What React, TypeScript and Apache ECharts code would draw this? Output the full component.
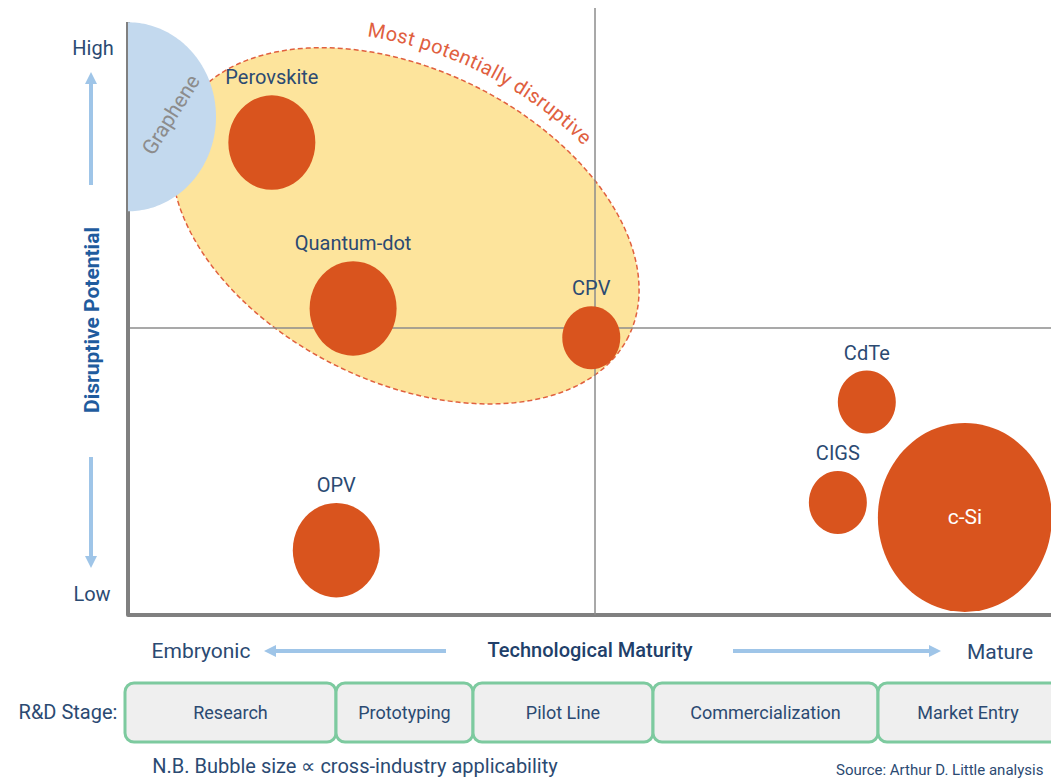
import React, { useEffect, useRef } from "react";
import * as echarts from "echarts";

// ---- Data ----
const technologies = ["Perovskite", "Quantum-dot", "CPV", "CdTe", "CIGS", "c-Si", "OPV"];
const maturity = [15.4, 24.1, 49.6, 79.1, 76.0, 89.6, 22.3];
const potential = [82.3, 53.4, 48.3, 37.1, 19.6, 17.0, 11.3];
const applicability = [1.5, 1.5, 1, 1, 1, 3, 1.5];

const grapheneName = "Graphene";
const grapheneMaturity = 0;
const graphenePotential = 86.8;
const grapheneApplicability = 3;

const stages = ["Research", "Prototyping", "Pilot Line", "Commercialization", "Market Entry"];
const zoneCenter = [29.7, 67.8];
const zoneLabel = "Most potentially disruptive";
const midMaturity = 50;
const midPotential = 50;
const axisTopPotential = 103.3;
const maturityMax = 98.82;
const potentialMax = 105.75;

// ---- Layout / style ----
const W = 1051;
const H = 778;
const BUBBLE_W = 58;
const BUBBLE_H = 63;
const ZONE_RX = 249;
const ZONE_RY = 156;
const ZONE_ANGLE = 26.3; // degrees, clockwise on screen
const STAGE_EDGES = [125, 336, 473, 653, 878, 1064];
const TEXT = "#2b4a72";
const ARROW = "#9fc5e8";
const FONT = "Roboto, 'Liberation Sans', sans-serif";

function arrow(x1: number, y1: number, x2: number, y2: number) {
  const ang = Math.atan2(y2 - y1, x2 - x1);
  const hl = 12;
  const hw = 6;
  const bx = x2 - hl * Math.cos(ang);
  const by = y2 - hl * Math.sin(ang);
  const nx = -Math.sin(ang);
  const ny = Math.cos(ang);
  return [
    { type: "line", shape: { x1, y1, x2: bx, y2: by }, style: { stroke: ARROW, lineWidth: 4 }, silent: true },
    {
      type: "polygon",
      shape: { points: [[x2, y2], [bx + nx * hw, by + ny * hw], [bx - nx * hw, by - ny * hw]] },
      style: { fill: ARROW },
      silent: true,
    },
  ];
}

function txt(text: string, x: number, y: number, size: number, color: string, extra: any = {}) {
  return {
    type: "text",
    x,
    y,
    silent: true,
    rotation: extra.rotation || 0,
    style: {
      text,
      fill: color,
      font: `${extra.weight || "normal"} ${size}px ${FONT}`,
      align: extra.align || "center",
      verticalAlign: "middle",
    },
  };
}

export default function App() {
  const ref = useRef<HTMLDivElement>(null);
  useEffect(() => {
    if (!ref.current) return;
    const chart = echarts.init(ref.current, null, { renderer: "svg" });

    const canvas = document.createElement("canvas");
    const ctx = canvas.getContext("2d") as CanvasRenderingContext2D;
    const zoneFontSize = 20;
    ctx.font = `${zoneFontSize}px Roboto`;

    const zoneItem = (params: any, api: any) => {
      const c = api.coord([api.value(0), api.value(1)]);
      const th = (ZONE_ANGLE * Math.PI) / 180;
      const ct = Math.cos(th);
      const st = Math.sin(th);
      const toScreen = (u: number, v: number) => [c[0] + u * ct - v * st, c[1] + u * st + v * ct];
      const pts: number[][] = [];
      for (let i = 0; i < 240; i++) {
        const t = (i / 240) * Math.PI * 2;
        pts.push(toScreen(ZONE_RX * Math.cos(t), ZONE_RY * Math.sin(t)));
      }
      const children: any[] = [
        {
          type: "polygon",
          shape: { points: pts },
          style: { fill: "#fde49c", stroke: "#e0603f", lineWidth: 1.5, lineDash: [5, 3] },
        },
      ];
      // curved label along the top of the ellipse
      const A = ZONE_RX + 22;
      const B = ZONE_RY + 22;
      const N = 3000;
      const ts: number[] = [];
      const ss: number[] = [];
      let acc = 0;
      let prev = [A * Math.cos(-Math.PI), B * Math.sin(-Math.PI)];
      for (let i = 0; i <= N; i++) {
        const t = -Math.PI + (i / N) * Math.PI;
        const p = [A * Math.cos(t), B * Math.sin(t)];
        acc += Math.hypot(p[0] - prev[0], p[1] - prev[1]);
        prev = p;
        ts.push(t);
        ss.push(acc);
      }
      const sMid = ss[N / 2];
      const spacing = 0.6;
      const widths = zoneLabel.split("").map((ch) => ctx.measureText(ch).width + spacing);
      const total = widths.reduce((a, b) => a + b, 0);
      let s = sMid - total / 2 + 3;
      const tAt = (sv: number) => {
        let lo = 0;
        let hi = N;
        while (hi - lo > 1) {
          const m = (lo + hi) >> 1;
          if (ss[m] < sv) lo = m;
          else hi = m;
        }
        return ts[hi];
      };
      zoneLabel.split("").forEach((ch, i) => {
        const sc = s + widths[i] / 2;
        s += widths[i];
        const t = tAt(sc);
        const u = A * Math.cos(t);
        const v = B * Math.sin(t);
        const p = toScreen(u, v);
        const du = -A * Math.sin(t);
        const dv = B * Math.cos(t);
        const dx = du * ct - dv * st;
        const dy = du * st + dv * ct;
        const phi = Math.atan2(dy, dx);
        if (ch === " ") return;
        children.push({
          type: "text",
          x: p[0],
          y: p[1],
          rotation: -phi,
          style: {
            text: ch,
            fill: "#e0603f",
            font: `${zoneFontSize}px ${FONT}`,
            align: "center",
            verticalAlign: "middle",
          },
        });
      });
      return { type: "group", children };
    };

    const grapheneItem = (params: any, api: any) => {
      const c = api.coord([api.value(0), api.value(1)]);
      const rx = (BUBBLE_W * api.value(2)) / 2 + 1;
      const ry = (BUBBLE_H * api.value(2)) / 2;
      const pts: number[][] = [];
      for (let i = 0; i <= 120; i++) {
        const t = -Math.PI / 2 + (i / 120) * Math.PI;
        pts.push([c[0] + rx * Math.cos(t), c[1] + ry * Math.sin(t)]);
      }
      return {
        type: "group",
        children: [
          { type: "polygon", shape: { points: pts }, style: { fill: "#c3d9ee" } },
          {
            type: "text",
            x: c[0] + 43,
            y: c[1] - 2,
            rotation: (58 * Math.PI) / 180,
            style: {
              text: grapheneName,
              fill: "#8c8c8c",
              font: `21px ${FONT}`,
              align: "center",
              verticalAlign: "middle",
            },
          },
        ],
      };
    };

    const graphics: any[] = [];
    graphics.push(txt("High", 93, 48, 20, TEXT));
    graphics.push(txt("Low", 92, 594, 20, TEXT));
    graphics.push(...arrow(91, 185, 91, 72));
    graphics.push(...arrow(91, 457, 91, 568));
    graphics.push(txt("Disruptive Potential", 92, 320, 21, "#1f5c9e", { rotation: Math.PI / 2, weight: "bold" }));
    graphics.push(txt("Embryonic", 201, 651, 21, TEXT));
    graphics.push(txt("Mature", 1000, 652, 21, TEXT));
    graphics.push(txt("Technological Maturity", 590, 650, 20, "#213f6a", { weight: 500 }));
    graphics.push(...arrow(446, 651, 264, 651));
    graphics.push(...arrow(733, 651, 941, 651));
    graphics.push(txt("R&D Stage:", 68, 712, 20, TEXT));
    stages.forEach((name, i) => {
      const x0 = STAGE_EDGES[i];
      const x1 = STAGE_EDGES[i + 1];
      graphics.push({
        type: "rect",
        shape: { x: x0, y: 683, width: x1 - x0, height: 59, r: 9 },
        style: { fill: "#efefef", stroke: "#7dca9f", lineWidth: 3 },
        silent: true,
      });
      graphics.push(txt(name, (x0 + Math.min(x1, 1058)) / 2, 712, 18, TEXT));
    });
    graphics.push(txt("N.B. Bubble size \u221D cross-industry applicability", 355, 766, 20, TEXT));
    graphics.push(txt("Source: Arthur D. Little analysis", 836, 770, 15, TEXT, { align: "left" }));

    const option: any = {
      animation: false,
      backgroundColor: "#ffffff",
      grid: { left: 128, right: 0, top: 8, bottom: H - 615, containLabel: false },
      xAxis: {
        type: "value",
        min: 0,
        max: maturityMax,
        axisLine: { show: true, onZero: false, lineStyle: { color: "#808080", width: 4 } },
        axisTick: { show: false },
        axisLabel: { show: false },
        splitLine: { show: false },
      },
      yAxis: {
        type: "value",
        min: 0,
        max: potentialMax,
        axisLine: { show: false },
        axisTick: { show: false },
        axisLabel: { show: false },
        splitLine: { show: false },
      },
      graphic: graphics,
      series: [
        {
          type: "custom",
          name: "zone",
          z: 1,
          silent: true,
          clip: false,
          renderItem: zoneItem,
          data: [zoneCenter],
        },
        {
          type: "line",
          z: 2,
          silent: true,
          clip: false,
          symbol: "none",
          lineStyle: { color: "#8c8c8c", width: 1.5 },
          data: [
            [midMaturity, 0],
            [midMaturity, potentialMax],
          ],
        },
        {
          type: "line",
          z: 2,
          silent: true,
          clip: false,
          symbol: "none",
          lineStyle: { color: "#8c8c8c", width: 1.5 },
          data: [
            [0, midPotential],
            [maturityMax, midPotential],
          ],
        },
        {
          type: "line",
          z: 2,
          silent: true,
          clip: false,
          symbol: "none",
          lineStyle: { color: "#808080", width: 4 },
          data: [
            [0, 0],
            [0, axisTopPotential],
          ],
        },
        {
          type: "custom",
          name: "graphene",
          z: 3,
          silent: true,
          clip: false,
          renderItem: grapheneItem,
          data: [[grapheneMaturity, graphenePotential, grapheneApplicability]],
        },
        {
          type: "scatter",
          z: 4,
          silent: true,
          clip: false,
          symbol: "circle",
          symbolSize: (val: number[]) => [BUBBLE_W * val[2], BUBBLE_H * val[2]],
          itemStyle: { color: "#d9541e", opacity: 1 },
          label: {
            show: true,
            position: "top",
            distance: 8,
            formatter: "{b}",
            color: TEXT,
            fontSize: 20,
            fontFamily: FONT,
          },
          data: technologies.map((name, i) => ({
            name,
            value: [maturity[i], potential[i], applicability[i]],
            label:
              name === "c-Si"
                ? { position: "inside", color: "#ffffff", fontSize: 21 }
                : undefined,
          })),
        },
      ],
    };
    chart.setOption(option);
    return () => chart.dispose();
  }, []);
  return (
    <div
      ref={ref}
      style={{ position: "absolute", left: 0, top: 0, width: W, height: H }}
    />
  );
}
